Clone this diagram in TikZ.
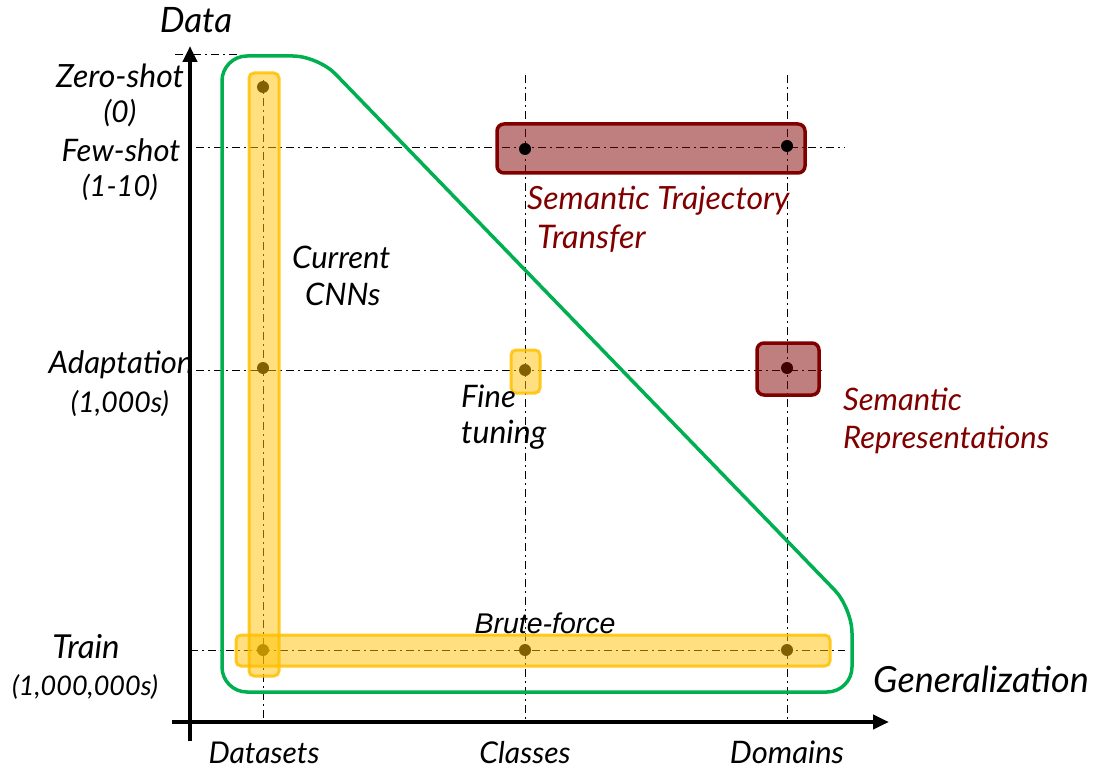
\documentclass[tikz,border=0pt]{standalone}
\usepackage{fontspec}
\setmainfont{Lato}
\newfontfamily\arialfont{Liberation Sans}
\usetikzlibrary{arrows.meta}
\definecolor{gold}{HTML}{FFC000}
\definecolor{dred}{HTML}{800000}
\definecolor{lgreen}{HTML}{00B050}
\newcommand{\fsz}[1]{\fontsize{#1}{#1}\selectfont\itshape}
\tikzset{
  ax/.style={line width=4pt},
  grid/.style={line width=1pt, dash pattern=on 8pt off 4pt on 2pt off 4pt},
  dot/.style={circle, fill=black, inner sep=0pt, minimum size=12pt},
  ybox/.style={draw=gold, line width=3pt, fill=gold, fill opacity=0.5, draw opacity=0.85, rounded corners=5pt},
  rbox/.style={draw=dred, line width=3.5pt, fill=dred, fill opacity=0.5, draw opacity=1, rounded corners=7pt},
  lab/.style={font=\fsz{31}, inner sep=0pt},
  rlab/.style={lab, text=dred},
}
\begin{document}
\begin{tikzpicture}[x=1pt,y=-1pt]
\useasboundingbox (0,0) rectangle (1095,770);
% grid lines
\draw[grid] (175,55) -- (240,55);
\draw[grid] (196,148) -- (845,148);
\draw[grid] (196,370) -- (825,370);
\draw[grid] (190,650) -- (845,650);
\draw[grid] (263,80) -- (263,720);
\draw[grid] (525,75) -- (525,720);
\draw[grid] (787,75) -- (787,720);
% dots under boxes
\node[dot] (d1) at (263,87) {};
\node[dot] (d2) at (263,368) {};
\node[dot] (d3) at (263,650) {};
\node[dot] (d4) at (525,370) {};
\node[dot] (d5) at (525,650) {};
\node[dot] (d6) at (787,650) {};
\node[dot] (d7) at (787,368) {};
% boxes
\draw[ybox] (249,73) rectangle (279,676);
\draw[ybox] (236,635) rectangle (830,666);
\draw[ybox] (511,350) rectangle (540,393);
\draw[rbox] (497,124) rectangle (805,173);
\draw[rbox] (757,343) rectangle (819,395);
\node[dot] (t1) at (525,149) {};
\node[dot] (t2) at (787,146) {};
% green region
\draw[lgreen, line width=3.5pt, rounded corners=25pt]
  (222,400) -- (222,56) -- (318,56) -- (852,608) -- (852,692) -- (222,692) -- cycle;
% axes
\coordinate (yb) at (190,741);
\coordinate (yt) at (190,46);
\coordinate (xl) at (172,722);
\coordinate (xr) at (889,722);
\draw[ax, -{Triangle[length=16pt,width=14pt]}] (yb) -- (yt);
\draw[ax, -{Triangle[length=16pt,width=14pt]}] (xl) -- (xr);
% labels
\node[lab, font=\fsz{35}, anchor=base] (data) at (196,33) {Data};
\node[lab, font=\fsz{32}, anchor=base] (zs) at (120,88) {Zero-shot};
\node[lab, font=\fsz{30}, anchor=base] (zs2) at (120,123) {(0)};
\node[lab, anchor=base] (fs) at (121,162) {Few-shot};
\node[lab, font=\fsz{29}, anchor=base] (fs2) at (120,197) {(1-10)};
\node[lab, anchor=base] (ad) at (121,373) {Adaptation};
\node[lab, font=\fsz{28.5}, anchor=base] (ad2) at (120,412) {(1,000s)};
\node[lab, font=\fsz{33}, anchor=base] (tr) at (86,658) {Train};
\node[lab, font=\fsz{27}, anchor=base] (tr2) at (85,695) {(1,000,000s)};
\node[lab, anchor=base west] (cur) at (292,268) {Current};
\node[lab, anchor=base west] (cnn) at (305,305) {CNNs};
\node[lab, anchor=base west] (fine) at (461,407) {Fine};
\node[lab, font=\fsz{32}, anchor=base west] (tun) at (461,443) {tuning};
\node[rlab, font=\fsz{32}, anchor=base west] (st) at (527,210) {Semantic Trajectory};
\node[rlab, font=\fsz{32.5}, anchor=base west] (st2) at (537,248) {Transfer};
\node[rlab, anchor=base west] (sr) at (843,410) {Semantic};
\node[rlab, anchor=base west] (sr2) at (843,448) {Representations};
\node[inner sep=0pt, font=\fontsize{28.5}{30}\selectfont\arialfont\itshape] (bf) at (545,623) {Brute-force};
\node[lab, font=\fsz{36}, anchor=base west] (gen) at (873,692) {Generalization};
\node[lab, font=\fsz{30}, anchor=base] (ds) at (264,763) {Datasets};
\node[lab, font=\fsz{30}, anchor=base] (cl) at (525,763) {Classes};
\node[lab, anchor=base] (dm) at (787,763) {Domains};
\end{tikzpicture}
\end{document}
